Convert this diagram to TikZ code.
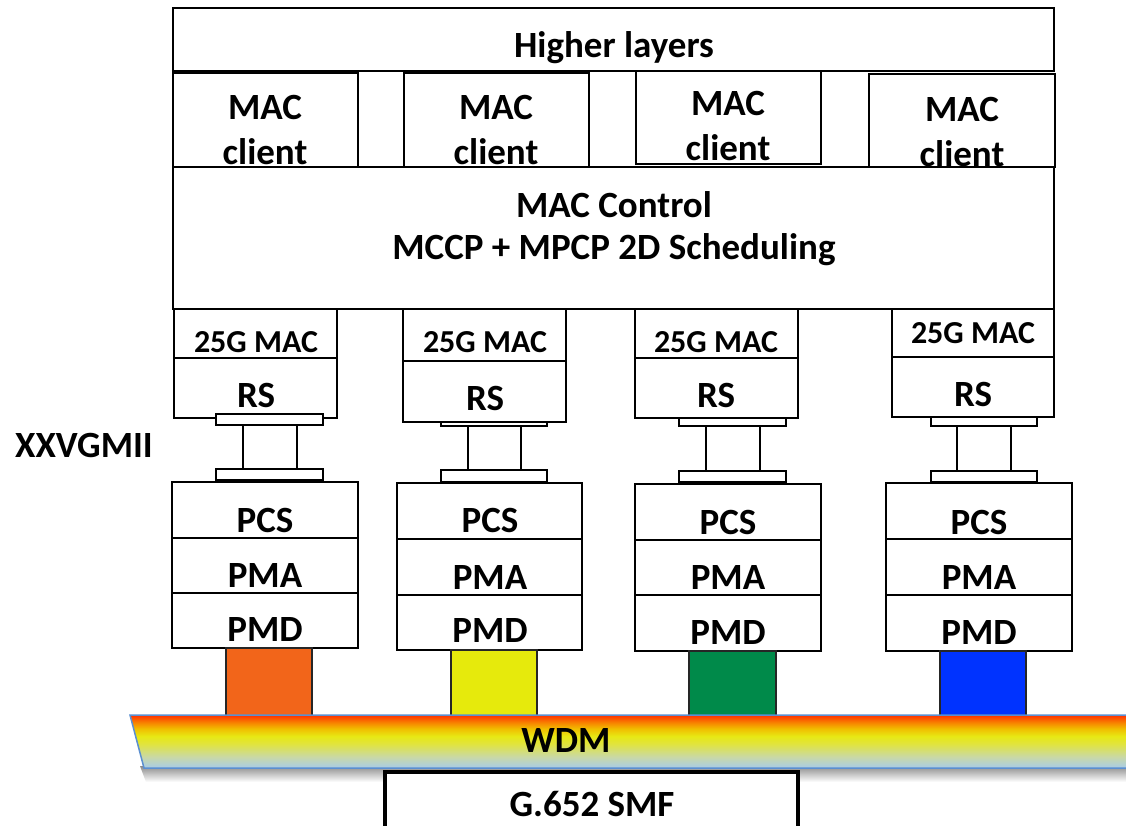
\documentclass[tikz,border=0pt]{standalone}
\usepackage{fontspec}
\setmainfont{Carlito}
\usetikzlibrary{fit}

\definecolor{pmdorange}{RGB}{242,101,26}
\definecolor{pmdyellow}{RGB}{230,234,12}
\definecolor{pmdgreen}{RGB}{0,138,74}
\definecolor{pmdblue}{RGB}{0,51,255}
\definecolor{wdmedge}{RGB}{91,143,208}
\definecolor{wdmA}{RGB}{168,204,232}
\definecolor{wdmB}{RGB}{200,216,170}
\definecolor{wdmC}{RGB}{225,228,60}
\definecolor{wdmD}{RGB}{232,232,20}
\definecolor{wdmE}{RGB}{240,190,0}
\definecolor{wdmF}{RGB}{248,130,0}
\definecolor{wdmG}{RGB}{255,48,0}

% fibre band: light blue at the bottom through yellow to red at the top
\pgfdeclareverticalshading{wdmband}{100bp}{color(0bp)=(wdmA); color(25bp)=(wdmA);
  color(35bp)=(wdmB); color(48bp)=(wdmC); color(55bp)=(wdmD); color(62bp)=(wdmE);
  color(68bp)=(wdmF); color(75bp)=(wdmG); color(100bp)=(wdmG)}

% a rectangle node spanning two corners
\newcommand\layerbox[4][]{\node[box,#1, fit={#3 #4}] (#2) {};}

\begin{document}
\begin{tikzpicture}[x=1pt,y=-1pt,
  box/.style={draw=black, line width=2.4pt, fill=white, inner sep=0pt, outer sep=0pt},
  plate/.style={draw=black, line width=2pt, fill=white, inner sep=0pt, outer sep=0pt},
  post/.style={draw=black, line width=2pt, inner sep=0pt, outer sep=0pt},
  lbl/.style={inner sep=0pt, anchor=base, font=\fontsize{37}{42}\selectfont\bfseries},
  slbl/.style={lbl, font=\fontsize{32}{36}\selectfont\bfseries},
  lambda/.style={draw=black!85, line width=2pt, inner sep=0pt, outer sep=0pt}]

\useasboundingbox (0,0) rectangle (1126,825);
\clip (0,0) rectangle (1126,825);

% ---------------- upper layers ----------------
\layerbox{hl}{(173,8)}{(1054,71)}
\node[lbl] (hl-t) at (614,57) {Higher layers};

\layerbox{c1}{(173,73)}{(358,167)}
\layerbox{c2}{(404,73)}{(589,167)}
\layerbox{c3}{(636,71)}{(821,164)}
\layerbox{c4}{(869,74)}{(1055,167)}
\node[lbl] (c1-a) at (265,119) {MAC};  \node[lbl] (c1-b) at (265,164) {client};
\node[lbl] (c2-a) at (496,119) {MAC};  \node[lbl] (c2-b) at (496,164) {client};
\node[lbl] (c3-a) at (728,115) {MAC};  \node[lbl] (c3-b) at (728,160) {client};
\node[lbl] (c4-a) at (962,121) {MAC};  \node[lbl] (c4-b) at (962,166) {client};

\layerbox{mc}{(173,167)}{(1054,309)}
\node[lbl] (mc-a) at (614,217) {MAC Control};
\node[lbl] (mc-b) at (614,259) {MCCP + MPCP 2D Scheduling};

% ---------------- XXVGMII connectors (drawn below the RS boxes) ----------------
\node[plate, fit={(441,418) (547,426)}] (tp2) {};
\node[plate, fit={(679,414) (786,426)}] (tp3) {};
\node[plate, fit={(931,413) (1037,426)}] (tp4) {};

% ---------------- MAC / RS stacks ----------------
\layerbox{m1}{(174,309)}{(337,358)}  \layerbox{r1}{(174,358)}{(337,418)}
\layerbox{m2}{(403,309)}{(566,361)}  \layerbox{r2}{(403,361)}{(566,422)}
\layerbox{m3}{(635,309)}{(798,358)}  \layerbox{r3}{(635,358)}{(798,418)}
\layerbox{m4}{(892,309)}{(1054,357)} \layerbox{r4}{(892,357)}{(1054,417)}

\node[slbl] (m1-t) at (256,352) {25G MAC};  \node[lbl] (r1-t) at (256,407) {RS};
\node[slbl] (m2-t) at (485,352) {25G MAC};  \node[lbl] (r2-t) at (485,410) {RS};
\node[slbl] (m3-t) at (716,352) {25G MAC};  \node[lbl] (r3-t) at (716,407) {RS};
\node[slbl] (m4-t) at (973,343) {25G MAC};  \node[lbl] (r4-t) at (973,406) {RS};

\node[plate, fit={(216,414) (323,425)}] (tp1) {};

\node[post, fit={(243,425) (297,469)}] (p1) {};
\node[post, fit={(468,426) (521,470)}] (p2) {};
\node[post, fit={(706,426) (760,471)}] (p3) {};
\node[post, fit={(957,426) (1011,471)}] (p4) {};

\node[plate, fit={(216,469) (323,480)}] (bp1) {};
\node[plate, fit={(441,470) (547,482)}] (bp2) {};
\node[plate, fit={(679,471) (786,482)}] (bp3) {};
\node[plate, fit={(931,471) (1037,482)}] (bp4) {};

\node[lbl, anchor=base] (mii) at (84,457) {XXVGMII};

% ---------------- PHY stacks ----------------
\layerbox{pcs1}{(172,482)}{(358,538)} \layerbox{pma1}{(172,538)}{(358,593)} \layerbox{pmd1}{(172,593)}{(358,648)}
\layerbox{pcs2}{(397,483)}{(582,539)} \layerbox{pma2}{(397,539)}{(582,595)} \layerbox{pmd2}{(397,595)}{(582,650)}
\layerbox{pcs3}{(635,484)}{(821,540)} \layerbox{pma3}{(635,540)}{(821,595)} \layerbox{pmd3}{(635,595)}{(821,651)}
\layerbox{pcs4}{(886,483)}{(1072,539)} \layerbox{pma4}{(886,539)}{(1072,595)} \layerbox{pmd4}{(886,595)}{(1072,651)}

\node[lbl] (pcs1-t) at (265,532) {PCS}; \node[lbl] (pma1-t) at (265,587) {PMA}; \node[lbl] (pmd1-t) at (265,641) {PMD};
\node[lbl] (pcs2-t) at (490,532) {PCS}; \node[lbl] (pma2-t) at (490,589) {PMA}; \node[lbl] (pmd2-t) at (490,642) {PMD};
\node[lbl] (pcs3-t) at (728,534) {PCS}; \node[lbl] (pma3-t) at (728,589) {PMA}; \node[lbl] (pmd3-t) at (728,644) {PMD};
\node[lbl] (pcs4-t) at (979,534) {PCS}; \node[lbl] (pma4-t) at (979,589) {PMA}; \node[lbl] (pmd4-t) at (979,644) {PMD};

% ---------------- wavelength ports ----------------
\node[lambda, fill=pmdorange, fit={(226,648) (312,716)}] (l1) {};
\node[lambda, fill=pmdyellow, fit={(451,650) (537,716)}] (l2) {};
\node[lambda, fill=pmdgreen,  fit={(689,651) (776,716)}] (l3) {};
\node[lambda, fill=pmdblue,   fit={(940,651) (1026,716)}] (l4) {};

% ---------------- WDM band with its shadow ----------------
\shade[top color=black!45, bottom color=white] (140,766) -- (1130,766) -- (1130,782) -- (146,782) -- cycle;
\path[shading=wdmband, draw=wdmedge, line width=1.5pt]
  (130,715) -- (1132,715) -- (1132,768) -- (144,768) -- cycle;
\node[lbl] (wdm) at (566,752) {WDM};

% ---------------- fibre ----------------
\node[draw=black, line width=3.5pt, fill=white, inner sep=0pt, fit={(385,772) (798,845)}] (smf) {};
\node[lbl] (smf-t) at (592,816) {G.652 SMF};

\end{tikzpicture}
\end{document}
